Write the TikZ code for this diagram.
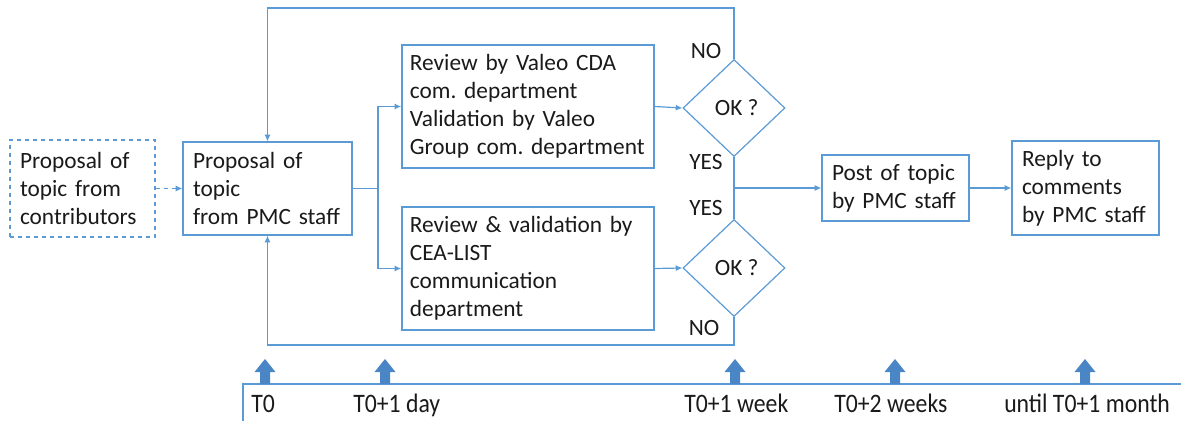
\documentclass[tikz,border=0pt]{standalone}
\usepackage{fontspec}
\setmainfont{Carlito}
\usetikzlibrary{arrows.meta,shapes.geometric,calc}
\definecolor{ln}{HTML}{5B9BD5}
\definecolor{blk}{HTML}{4A86C5}
\definecolor{txt}{HTML}{1A1A1A}
\frenchspacing
\hyphenpenalty=10000
\begin{document}
\begin{tikzpicture}[x=0.75pt,y=-0.75pt,
  every node/.style={text=txt},
  box/.style={draw=ln,line width=0.9pt,rectangle,align=left,inner xsep=7.5pt,inner ysep=0pt,
    font=\fontsize{17.5}{21}\selectfont},
  dia/.style={draw=ln,line width=0.9pt,diamond,inner sep=0pt,minimum width=76.5pt,minimum height=72.75pt,
    font=\fontsize{17.5}{21}\selectfont},
  conn/.style={draw=ln,line width=0.9pt},
  arr/.style={conn,-{Latex[length=5pt,width=4.5pt]}},
  lbl/.style={font=\fontsize{17.5}{21}\selectfont,inner sep=0pt},
  tlbl/.style={font=\fontsize{20}{22}\selectfont,inner sep=0pt,anchor=base west}]
\useasboundingbox (0,0) rectangle (1181,421);
% boxes
\node[box,dashed,text width=93.75pt,minimum height=72.75pt] (contrib) at (82.5,188.5)
  {Proposal of\\topic from\\contributors};
\node[box,text width=111.75pt,minimum height=69.75pt] (pmc) at (267.5,188.5)
  {Proposal of\\topic\\from PMC staff};
\node[box,inner xsep=6pt,text width=177pt,minimum height=92.25pt] (valeo) at (527.9,106.5)
  {Review by Valeo CDA\\com. department\\Validation by Valeo\\Group com. department};
\node[box,inner xsep=6pt,text width=177pt,minimum height=92.25pt] (cea) at (527.9,268.5)
  {Review \& validation by\\CEA-LIST\\communication\\department};
\node[dia] (d1) at (734,108) {\hspace*{4pt}OK ?};
\node[dia] (d2) at (734,268) {\hspace*{4pt}OK ?};
\node[box,text width=95.25pt,minimum height=49.5pt] (post) at (895.5,188)
  {Post of topic\\by PMC staff};
\node[box,text width=95.25pt,minimum height=70.5pt] (reply) at (1085.5,188)
  {Reply to\\comments\\by PMC staff};
% labels
\node[lbl] (no1) at (706,51) {NO};
\node[lbl] (yes1) at (706,162) {YES};
\node[lbl] (yes2) at (706,208) {YES};
\node[lbl] (no2) at (704,328) {NO};
% connectors
\draw[arr,dashed] (contrib.east) -- (pmc.east -| pmc.west);
\coordinate (j) at (378,188.5);
\draw[conn] (pmc.east) -- (j);
\draw[arr] (j) |- (valeo.west);
\draw[arr] (j) |- (cea.west);
\draw[arr] (valeo.east) -- (d1.west);
\draw[arr] (cea.east) -- (d2.west);
\coordinate (tl) at (734,8);
\coordinate (bl) at (734,345);
\draw[arr] (d1.north) -- (tl) -| (pmc.north);
\draw[arr] (d2.south) -- (bl) -| (pmc.south);
\draw[conn] (d1.south) -- (d2.north);
\coordinate (m) at (734,188);
\draw[arr] (m) -- (post.west);
\draw[arr] (post.east) -- (reply.west);
% timeline
\coordinate (ta) at (243,421);
\coordinate (tb) at (243,384);
\coordinate (tc) at (1181,384);
\draw[conn] (ta) -- (tb) -- (tc);
\foreach \xx in {265,385,735,895,1085}{
  \fill[blk] (\xx-5,384) -- (\xx-5,372) -- (\xx-10.5,372) -- (\xx,359) -- (\xx+10.5,372) -- (\xx+5,372) -- (\xx+5,384) -- cycle;
}
\node[tlbl] (t0) at (251,412) {\scalebox{0.89}[1]{T0}};
\node[tlbl] (t1) at (353,412) {\scalebox{0.89}[1]{T0+1 day}};
\node[tlbl] (t2) at (684,412) {\scalebox{0.89}[1]{T0+1 week}};
\node[tlbl] (t3) at (834,412) {\scalebox{0.89}[1]{T0+2 weeks}};
\node[tlbl] (t4) at (1004,412) {\scalebox{0.89}[1]{until T0+1 month}};
\end{tikzpicture}
\end{document}
